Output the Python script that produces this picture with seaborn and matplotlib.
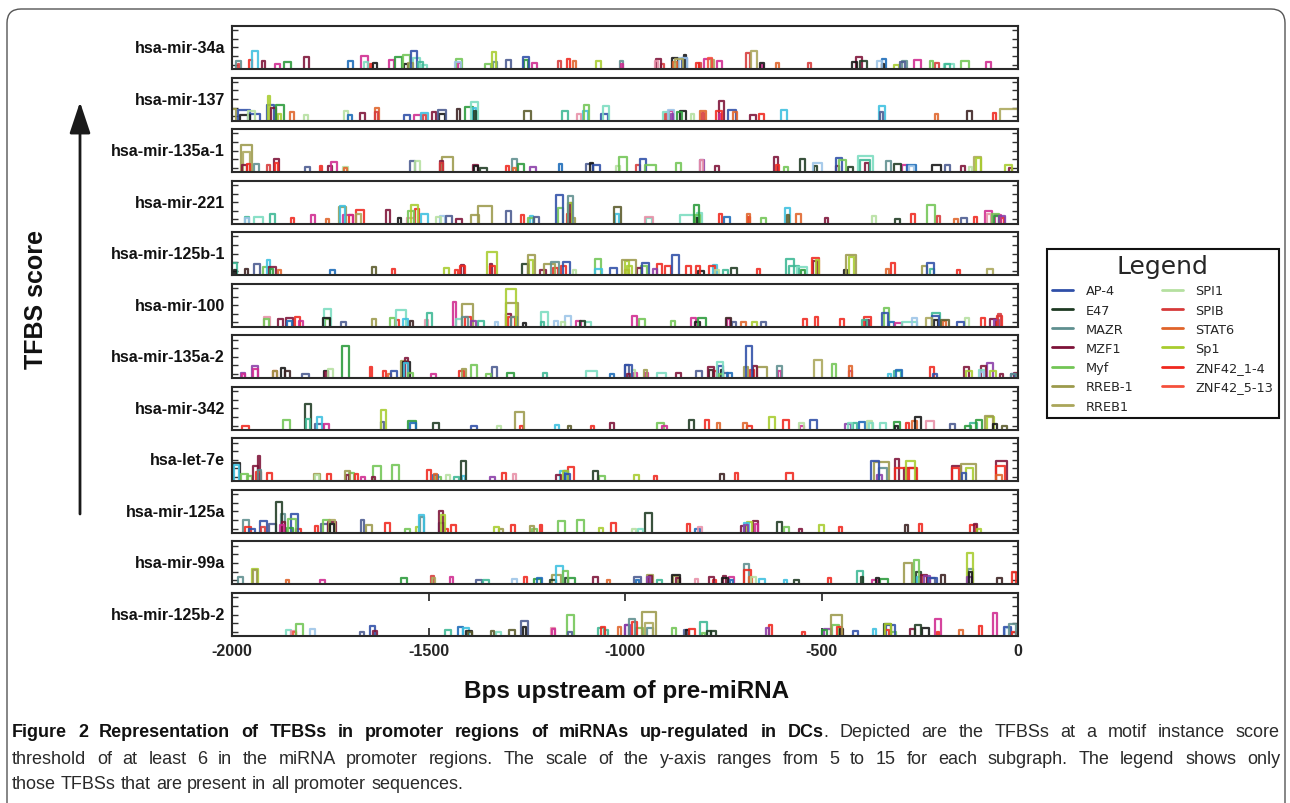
import matplotlib
matplotlib.use('Agg')
import matplotlib.pyplot as plt
from matplotlib import font_manager
from matplotlib.lines import Line2D
from matplotlib.patches import FancyBboxPatch
from matplotlib.transforms import IdentityTransform
import seaborn as sns
import pandas as pd

# miRNA promoters, top to bottom
mirnas = ['hsa-mir-34a', 'hsa-mir-137', 'hsa-mir-135a-1', 'hsa-mir-221',
          'hsa-mir-125b-1', 'hsa-mir-100', 'hsa-mir-135a-2', 'hsa-mir-342',
          'hsa-let-7e', 'hsa-mir-125a', 'hsa-mir-99a', 'hsa-mir-125b-2']

# factors shown in the legend (present in all promoters)
legend_tfs = ['AP-4', 'E47', 'MAZR', 'MZF1', 'Myf', 'RREB-1', 'RREB1',
              'SPI1', 'SPIB', 'STAT6', 'Sp1', 'ZNF42_1-4', 'ZNF42_5-13']

tf_colors = {
    'AP-4': '#2f4fa8', 'E47': '#1e3a22', 'MAZR': '#5f8f8f', 'MZF1': '#7d1238',
    'Myf': '#72c555', 'RREB-1': '#9c9a4c', 'RREB1': '#aaa65a', 'SPI1': '#b5e0a0',
    'SPIB': '#d63a3a', 'STAT6': '#e0642a', 'Sp1': '#a8cc2e', 'ZNF42_1-4': '#f0281e',
    'ZNF42_5-13': '#f5503c',
    # other factors, not in the legend
    'ZIC': '#d02a90', 'HIC1': '#3cc0e0', 'KROX': '#9cc4e8', 'PAX5': '#8a3ca8',
    'EGR1': '#2a9a3a', 'NRF1': '#3cb894', 'E2F': '#141414', 'ETF': '#5a5a2a',
    'WT1': '#e890a8', 'CTCF': '#7adcc0', 'ZF5': '#1a6ab8', 'KLF': '#4a5a90',
    'NF1': '#3a2020',
}

# sites: (start bp, motif length bp, score, factor)
sites_34a = [
    (-1989, 13, 6.9, 'MAZR'), (-1986, 5, 6.2, 'SPIB'), (-1957, 8, 7.1, 'ZNF42_1-4'),
    (-1949, 14, 9.1, 'HIC1'), (-1924, 7, 6.9, 'MZF1'), (-1891, 13, 6.2, 'ZIC'),
    (-1868, 17, 6.6, 'EGR1'), (-1817, 14, 7.7, 'MZF1'), (-1705, 12, 6.9, 'ZF5'),
    (-1672, 17, 8.1, 'ZIC'), (-1664, 10, 6.6, 'CTCF'), (-1650, 6, 6.2, 'ZNF42_1-4'),
    (-1641, 11, 6.3, 'E2F'), (-1601, 12, 7.1, 'ZIC'), (-1584, 17, 7.9, 'EGR1'),
    (-1565, 17, 8.3, 'Myf'), (-1562, 10, 6.2, 'E2F'), (-1552, 13, 6.3, 'RREB-1'),
    (-1545, 17, 9.1, 'AP-4'), (-1539, 17, 7.6, 'CTCF'), (-1527, 13, 6.6, 'NRF1'),
    (-1518, 15, 6.0, 'CTCF'), (-1433, 15, 6.6, 'KROX'), (-1429, 13, 7.3, 'Myf'),
    (-1425, 7, 6.3, 'ZIC'), (-1355, 14, 6.2, 'Myf'), (-1338, 11, 8.9, 'Sp1'),
    (-1335, 10, 6.6, 'MAZR'), (-1304, 14, 7.1, 'KLF'), (-1260, 15, 7.7, 'AP-4'),
    (-1257, 10, 7.1, 'EGR1'), (-1237, 13, 6.3, 'ZIC'), (-1170, 8, 6.8, 'SPIB'),
    (-1147, 8, 7.3, 'ZNF42_1-4'), (-1132, 8, 6.8, 'STAT6'), (-1073, 13, 6.9, 'Sp1'),
    (-1013, 8, 6.8, 'MAZR'), (-1011, 6, 6.2, 'ZIC'), (-924, 8, 6.9, 'WT1'),
    (-922, 13, 7.3, 'MZF1'), (-909, 8, 6.2, 'SPIB'), (-880, 15, 7.6, 'E2F'),
    (-877, 10, 6.6, 'STAT6'), (-872, 20, 7.3, 'RREB1'), (-862, 20, 7.6, 'KROX'),
    (-855, 12, 7.5, 'AP-4'), (-850, 5, 8.3, 'E2F'), (-820, 8, 6.3, 'ZNF42_1-4'),
    (-812, 6, 6.5, 'SPIB'), (-799, 20, 7.3, 'ZIC'), (-788, 10, 7.5, 'ZNF42_5-13'),
    (-782, 8, 7.0, 'RREB1'), (-765, 13, 6.8, 'ZIC'), (-691, 9, 8.6, 'SPIB'),
    (-680, 15, 9.1, 'RREB1'), (-657, 10, 6.3, 'E2F'), (-655, 6, 6.0, 'ZIC'),
    (-617, 8, 6.3, 'STAT6'), (-535, 9, 6.5, 'SPIB'), (-422, 12, 6.6, 'E2F'),
    (-411, 13, 7.7, 'MZF1'), (-401, 16, 6.8, 'E47'), (-358, 11, 6.9, 'KROX'),
    (-347, 10, 7.3, 'ZF5'), (-346, 6, 6.2, 'E2F'), (-316, 12, 6.0, 'Sp1'),
    (-301, 13, 6.6, 'KLF'), (-295, 13, 6.8, 'MAZR'), (-265, 17, 7.1, 'ZIC'),
    (-225, 9, 6.8, 'Myf'), (-210, 9, 6.3, 'SPIB'), (-189, 25, 6.2, 'CTCF'),
    (-185, 12, 6.2, 'NRF1'), (-144, 19, 6.8, 'Myf'), (-81, 13, 6.6, 'ZIC'),
]

sites_137 = [
    (-2000, 11, 7.7, 'RREB-1'), (-1986, 31, 7.5, 'AP-4'), (-1980, 25, 6.2, 'E2F'),
    (-1959, 30, 6.4, 'AP-4'), (-1959, 17, 7.3, 'SPI1'), (-1910, 18, 8.5, 'AP-4'),
    (-1908, 5, 10.8, 'Sp1'), (-1900, 13, 7.9, 'MZF1'), (-1887, 20, 8.7, 'EGR1'),
    (-1883, 8, 6.5, 'Sp1'), (-1853, 10, 6.9, 'STAT6'), (-1817, 10, 6.2, 'SPI1'),
    (-1715, 10, 7.2, 'SPI1'), (-1706, 12, 6.2, 'ZF5'), (-1675, 13, 6.7, 'MZF1'),
    (-1637, 10, 7.9, 'STAT6'), (-1635, 6, 7.0, 'SPIB'), (-1562, 14, 6.2, 'AP-4'),
    (-1537, 19, 6.2, 'ZIC'), (-1520, 18, 6.7, 'HIC1'), (-1515, 8, 6.3, 'SPIB'),
    (-1491, 11, 6.9, 'MZF1'), (-1476, 21, 7.5, 'KLF'), (-1474, 15, 6.6, 'E2F'),
    (-1427, 8, 7.6, 'NF1'), (-1406, 20, 8.1, 'EGR1'), (-1391, 17, 9.2, 'CTCF'),
    (-1387, 8, 8.0, 'HIC1'), (-1384, 6, 7.2, 'E47'), (-1257, 19, 7.2, 'ETF'),
    (-1160, 14, 7.2, 'NRF1'), (-1121, 8, 6.4, 'WT1'), (-1107, 14, 7.2, 'HIC1'),
    (-1104, 12, 8.6, 'Myf'), (-1062, 19, 6.5, 'AP-4'), (-1056, 15, 8.3, 'CTCF'),
    (-904, 15, 6.9, 'CTCF'), (-898, 6, 6.4, 'SPIB'), (-890, 14, 7.5, 'KROX'),
    (-887, 8, 7.2, 'ZIC'), (-884, 6, 6.6, 'PAX5'), (-867, 13, 6.9, 'EGR1'),
    (-859, 13, 7.3, 'E2F'), (-833, 8, 6.4, 'SPI1'), (-808, 13, 7.2, 'STAT6'),
    (-804, 6, 6.8, 'SPIB'), (-768, 15, 7.2, 'ZNF42_1-4'), (-761, 14, 9.5, 'MZF1'),
    (-762, 6, 6.4, 'ZIC'), (-737, 19, 7.5, 'AP-4'), (-724, 8, 6.9, 'STAT6'),
    (-682, 16, 6.2, 'MZF1'), (-659, 13, 6.4, 'ZNF42_1-4'), (-604, 17, 7.5, 'HIC1'),
    (-354, 15, 8.3, 'HIC1'), (-350, 6, 7.0, 'KLF'), (-212, 8, 6.4, 'STAT6'),
    (-129, 11, 7.2, 'NF1'), (-64, 7, 6.7, 'ZNF42_1-4'), (-47, 47, 7.7, 'RREB1'),
]

sites_135a1 = [
    (-1976, 27, 11.2, 'RREB-1'), (-1972, 17, 9.7, 'RREB1'), (-1974, 11, 6.6, 'MZF1'),
    (-1963, 9, 6.8, 'ZNF42_1-4'), (-1944, 12, 6.8, 'MAZR'), (-1912, 8, 6.6, 'SPIB'),
    (-1893, 12, 8.1, 'MZF1'), (-1890, 6, 7.0, 'ZNF42_1-4'), (-1813, 11, 6.2, 'KLF'),
    (-1777, 7, 6.3, 'ZNF42_1-4'), (-1756, 10, 6.3, 'MZF1'), (-1747, 15, 7.3, 'ZIC'),
    (-1717, 12, 6.2, 'SPI1'), (-1714, 7, 6.0, 'STAT6'), (-1548, 13, 7.6, 'KLF'),
    (-1535, 13, 7.6, 'SPI1'), (-1472, 8, 7.1, 'SPIB'), (-1470, 6, 7.6, 'MZF1'),
    (-1466, 28, 8.6, 'RREB-1'), (-1387, 14, 6.6, 'MZF1'), (-1385, 10, 6.3, 'E2F'),
    (-1370, 19, 6.0, 'E47'), (-1304, 8, 6.3, 'ZNF42_1-4'), (-1287, 13, 8.1, 'MAZR'),
    (-1284, 7, 6.0, 'STAT6'), (-1272, 15, 6.8, 'EGR1'), (-1243, 17, 6.2, 'PAX5'),
    (-1169, 8, 6.8, 'ZF5'), (-1098, 17, 6.8, 'KLF'), (-1090, 8, 7.1, 'E2F'),
    (-1081, 17, 6.6, 'AP-4'), (-1022, 10, 6.5, 'SPI1'), (-1016, 20, 8.6, 'Myf'),
    (-971, 8, 6.6, 'SPIB'), (-963, 17, 8.1, 'AP-4'), (-949, 27, 6.6, 'Myf'),
    (-871, 13, 7.1, 'Myf'), (-810, 11, 7.7, 'PAX5'), (-808, 6, 7.9, 'WT1'),
    (-771, 10, 6.3, 'MZF1'), (-621, 11, 8.5, 'MZF1'), (-617, 8, 6.6, 'ZNF42_1-4'),
    (-596, 11, 6.2, 'Myf'), (-555, 14, 8.1, 'E47'), (-522, 24, 7.1, 'KROX'),
    (-520, 8, 6.3, 'E47'), (-464, 17, 8.3, 'AP-4'), (-456, 19, 7.9, 'Myf'),
    (-462, 6, 6.3, 'MZF1'), (-432, 12, 6.2, 'E47'), (-407, 37, 8.8, 'CTCF'),
    (-402, 25, 7.8, 'NRF1'), (-390, 12, 7.1, 'MZF1'), (-337, 13, 7.6, 'MAZR'),
    (-316, 19, 6.9, 'E47'), (-295, 13, 6.6, 'ZIC'), (-282, 23, 6.6, 'ZF5'),
    (-278, 14, 6.4, 'KROX'), (-218, 21, 6.6, 'E2F'), (-186, 12, 6.6, 'KLF'),
    (-144, 8, 6.3, 'MZF1'), (-124, 8, 6.2, 'SPI1'), (-112, 17, 8.5, 'RREB1'),
    (-108, 15, 8.3, 'Sp1'), (-32, 17, 6.6, 'Sp1'), (-24, 8, 6.0, 'MZF1'),
]

sites_221 = [
    (-1968, 10, 6.6, 'NRF1'), (-1966, 8, 6.4, 'KROX'), (-1944, 23, 6.6, 'CTCF'),
    (-1904, 13, 7.2, 'NRF1'), (-1850, 8, 6.4, 'ZNF42_1-4'), (-1800, 10, 7.0, 'ZIC'),
    (-1760, 8, 6.0, 'STAT6'), (-1728, 17, 8.9, 'RREB-1'), (-1726, 13, 9.1, 'HIC1'),
    (-1718, 25, 7.0, 'ZIC'), (-1703, 11, 7.0, 'ZNF42_1-4'), (-1684, 20, 8.1, 'ZNF42_1-4'),
    (-1684, 12, 7.2, 'RREB1'), (-1607, 10, 8.1, 'MZF1'), (-1577, 8, 6.4, 'E2F'),
    (-1555, 17, 6.4, 'WT1'), (-1552, 15, 7.9, 'Myf'), (-1545, 18, 9.3, 'Sp1'),
    (-1535, 10, 8.5, 'ZNF42_1-4'), (-1520, 18, 7.2, 'HIC1'), (-1480, 13, 6.6, 'SPI1'),
    (-1472, 13, 6.7, 'KROX'), (-1455, 14, 6.7, 'KLF'), (-1429, 13, 6.0, 'MZF1'),
    (-1391, 20, 7.0, 'RREB-1'), (-1374, 35, 9.0, 'RREB-1'), (-1302, 13, 7.9, 'KLF'),
    (-1264, 8, 7.0, 'ZNF42_1-4'), (-1247, 15, 6.4, 'Myf'), (-1243, 10, 6.8, 'HIC1'),
    (-1232, 14, 6.6, 'KLF'), (-1175, 17, 11.7, 'AP-4'), (-1170, 13, 8.7, 'Myf'),
    (-1147, 6, 7.2, 'ZNF42_1-4'), (-1145, 13, 11.4, 'MAZR'), (-1145, 10, 9.9, 'Sp1'),
    (-1141, 6, 9.9, 'MZF1'), (-1137, 10, 6.4, 'RREB-1'), (-1028, 19, 8.9, 'ETF'),
    (-1025, 11, 7.3, 'HIC1'), (-948, 19, 6.6, 'WT1'), (-946, 14, 6.4, 'CTCF'),
    (-861, 36, 7.0, 'CTCF'), (-825, 14, 9.3, 'EGR1'), (-822, 12, 7.0, 'Myf'),
    (-817, 13, 7.4, 'CTCF'), (-819, 6, 6.2, 'E2F'), (-761, 9, 7.3, 'ZNF42_1-4'),
    (-748, 14, 6.6, 'ZF5'), (-689, 8, 7.3, 'STAT6'), (-687, 6, 6.6, 'ZNF42_1-4'),
    (-655, 13, 6.4, 'Myf'), (-592, 13, 8.7, 'HIC1'), (-589, 6, 7.0, 'ETF'),
    (-564, 11, 7.3, 'STAT6'), (-491, 8, 6.2, 'MZF1'), (-371, 10, 6.7, 'SPI1'),
    (-313, 12, 6.1, 'E47'), (-271, 8, 7.2, 'ZNF42_1-4'), (-231, 20, 9.3, 'Myf'),
    (-206, 8, 6.8, 'SPIB'), (-162, 10, 6.1, 'STAT6'), (-144, 14, 6.2, 'KLF'),
    (-112, 8, 6.6, 'ZNF42_1-4'), (-83, 17, 7.9, 'ZIC'), (-80, 12, 7.3, 'WT1'),
    (-66, 17, 7.3, 'Myf'), (-60, 12, 6.8, 'EGR1'), (-58, 16, 7.0, 'ZIC'),
    (-49, 15, 6.8, 'PAX5'), (-46, 12, 6.5, 'KROX'), (-42, 6, 6.2, 'ZNF42_1-4'),
]

sites_125b1 = [
    (-2000, 13, 7.9, 'NRF1'), (-1996, 5, 6.3, 'E2F'), (-1968, 8, 6.5, 'NF1'),
    (-1944, 14, 7.7, 'KLF'), (-1921, 17, 6.9, 'Myf'), (-1912, 8, 8.5, 'HIC1'),
    (-1907, 19, 6.9, 'MZF1'), (-1904, 8, 6.5, 'EGR1'), (-1884, 8, 6.3, 'STAT6'),
    (-1751, 13, 6.2, 'ZF5'), (-1643, 10, 6.9, 'ETF'), (-1593, 8, 6.5, 'ZNF42_1-4'),
    (-1460, 12, 6.7, 'Sp1'), (-1433, 8, 6.2, 'ZNF42_1-4'), (-1419, 11, 7.1, 'ZNF42_1-4'),
    (-1417, 8, 7.3, 'MZF1'), (-1350, 25, 10.5, 'Sp1'), (-1344, 13, 7.2, 'ZNF42_1-4'),
    (-1344, 6, 7.5, 'MZF1'), (-1261, 14, 7.5, 'E47'), (-1247, 17, 9.8, 'RREB-1'),
    (-1244, 11, 8.6, 'Sp1'), (-1217, 17, 6.3, 'MZF1'), (-1206, 27, 7.5, 'RREB-1'),
    (-1188, 21, 8.0, 'MAZR'), (-1183, 12, 6.7, 'ZNF42_1-4'), (-1162, 13, 7.1, 'ZNF42_1-4'),
    (-1158, 17, 8.0, 'AP-4'), (-1132, 8, 6.3, 'SPI1'), (-1077, 15, 8.8, 'Myf'),
    (-1077, 19, 6.5, 'HIC1'), (-1037, 17, 6.7, 'AP-4'), (-1001, 12, 8.2, 'Sp1'),
    (-1007, 34, 8.5, 'RREB-1'), (-994, 13, 7.2, 'Sp1'), (-999, 8, 6.3, 'STAT6'),
    (-969, 13, 6.7, 'MZF1'), (-960, 17, 7.1, 'Myf'), (-956, 17, 7.9, 'AP-4'),
    (-929, 11, 6.5, 'PAX5'), (-918, 11, 7.5, 'ZNF42_1-4'), (-897, 13, 7.1, 'ZNF42_1-4'),
    (-880, 17, 9.6, 'AP-4'), (-846, 13, 7.2, 'ZNF42_1-4'), (-819, 11, 7.2, 'ZNF42_1-4'),
    (-814, 14, 5.9, 'E2F'), (-785, 13, 7.2, 'ZNF42_1-4'), (-777, 10, 7.4, 'HIC1'),
    (-770, 8, 6.3, 'SPI1'), (-751, 13, 6.3, 'NRF1'), (-731, 17, 6.7, 'E47'),
    (-665, 8, 6.5, 'ZNF42_1-4'), (-590, 19, 8.8, 'NRF1'), (-583, 25, 7.2, 'NRF1'),
    (-562, 25, 6.9, 'CTCF'), (-553, 12, 6.3, 'EGR1'), (-525, 18, 9.0, 'ZNF42_1-4'),
    (-521, 10, 8.2, 'MZF1'), (-515, 8, 8.5, 'Sp1'), (-443, 8, 6.2, 'E2F'),
    (-437, 24, 9.8, 'RREB-1'), (-430, 12, 9.3, 'Sp1'), (-335, 8, 6.5, 'STAT6'),
    (-322, 10, 7.9, 'ZNF42_1-4'), (-244, 13, 7.2, 'RREB-1'), (-231, 17, 7.9, 'AP-4'),
    (-223, 8, 6.5, 'NRF1'), (-155, 8, 6.2, 'ZNF42_1-4'), (-78, 14, 6.5, 'RREB1'),
]

sites_100 = [
    (-1918, 14, 7.3, 'WT1'), (-1918, 12, 6.7, 'Myf'), (-1883, 13, 6.7, 'MZF1'),
    (-1862, 17, 7.1, 'MZF1'), (-1859, 12, 6.3, 'ZF5'), (-1840, 13, 7.3, 'ZNF42_1-4'),
    (-1830, 11, 6.3, 'ZIC'), (-1766, 17, 9.2, 'CTCF'), (-1768, 17, 7.1, 'E2F'),
    (-1763, 12, 6.9, 'Myf'), (-1723, 12, 6.1, 'KLF'), (-1643, 10, 6.7, 'RREB-1'),
    (-1599, 13, 7.0, 'Myf'), (-1582, 8, 6.6, 'ZNF42_1-4'), (-1582, 25, 9.0, 'CTCF'),
    (-1565, 14, 6.7, 'HIC1'), (-1548, 8, 6.3, 'NF1'), (-1510, 8, 6.6, 'WT1'),
    (-1503, 12, 8.1, 'NRF1'), (-1438, 8, 10.7, 'ZIC'), (-1429, 13, 6.9, 'CTCF'),
    (-1416, 29, 10.2, 'RREB-1'), (-1414, 15, 7.3, 'MAZR'), (-1408, 17, 7.3, 'ZNF42_1-4'),
    (-1391, 13, 6.3, 'PAX5'), (-1374, 15, 6.3, 'NRF1'), (-1332, 8, 6.1, 'KROX'),
    (-1302, 25, 13.8, 'Sp1'), (-1302, 30, 10.5, 'RREB-1'), (-1302, 12, 7.9, 'MZF1'),
    (-1298, 17, 7.3, 'ZNF42_1-4'), (-1290, 14, 7.3, 'MAZR'), (-1260, 8, 5.9, 'E2F'),
    (-1213, 17, 8.4, 'CTCF'), (-1213, 8, 6.1, 'NRF1'), (-1181, 10, 6.3, 'KROX'),
    (-1163, 10, 6.1, 'SPI1'), (-1152, 14, 7.6, 'KROX'), (-1124, 13, 6.3, 'ZIC'),
    (-1115, 13, 6.3, 'E47'), (-1101, 14, 6.2, 'CTCF'), (-982, 13, 7.5, 'ZIC'),
    (-965, 17, 6.7, 'Myf'), (-884, 11, 6.3, 'Myf'), (-831, 12, 7.1, 'ZIC'),
    (-822, 12, 6.0, 'E2F'), (-814, 19, 7.0, 'EGR1'), (-742, 11, 7.1, 'NF1'),
    (-740, 6, 6.8, 'ZIC'), (-727, 10, 6.1, 'KLF'), (-706, 14, 6.2, 'STAT6'),
    (-676, 13, 6.1, 'Sp1'), (-655, 13, 6.2, 'KLF'), (-547, 10, 6.9, 'ZNF42_1-4'),
    (-517, 8, 7.2, 'ZNF42_1-4'), (-453, 10, 6.7, 'ZNF42_1-4'), (-398, 14, 6.6, 'NRF1'),
    (-392, 17, 7.3, 'ZNF42_1-4'), (-388, 8, 6.5, 'MZF1'), (-347, 17, 8.3, 'AP-4'),
    (-341, 13, 9.3, 'Myf'), (-329, 13, 6.1, 'ZF5'), (-313, 19, 5.9, 'ZIC'),
    (-295, 38, 6.2, 'CTCF'), (-269, 13, 7.1, 'KROX'), (-234, 14, 7.1, 'RREB1'),
    (-218, 19, 8.3, 'NRF1'), (-218, 17, 7.6, 'AP-4'), (-214, 10, 6.5, 'E2F'),
    (-195, 19, 6.6, 'ETF'), (-192, 8, 6.3, 'STAT6'), (-155, 17, 6.1, 'AP-4'),
    (-135, 10, 7.1, 'SPI1'), (-93, 10, 7.1, 'ZNF42_1-4'), (-70, 13, 6.7, 'MZF1'),
    (-60, 12, 6.5, 'PAX5'), (-53, 13, 7.5, 'ZNF42_1-4'), (-50, 6, 7.9, 'SPIB'),
]

sites_135a2 = [
    (-1978, 12, 6.3, 'PAX5'), (-1975, 8, 6.0, 'ZIC'), (-1949, 15, 7.9, 'PAX5'),
    (-1946, 11, 7.1, 'ZIC'), (-1896, 11, 6.8, 'ZNF42_1-4'), (-1895, 9, 6.6, 'RREB-1'),
    (-1876, 12, 7.3, 'E2F'), (-1864, 11, 6.6, 'NF1'), (-1822, 17, 6.0, 'KLF'),
    (-1766, 10, 6.8, 'E2F'), (-1764, 6, 6.4, 'MZF1'), (-1756, 13, 7.1, 'SPI1'),
    (-1720, 17, 12.5, 'EGR1'), (-1650, 7, 7.7, 'ZNF42_1-4'), (-1617, 8, 6.6, 'ZNF42_1-4'),
    (-1604, 8, 6.0, 'STAT6'), (-1596, 17, 6.6, 'AP-4'), (-1571, 19, 9.1, 'RREB-1'),
    (-1565, 17, 8.9, 'E2F'), (-1563, 12, 8.5, 'HIC1'), (-1560, 8, 9.6, 'MZF1'),
    (-1552, 13, 6.3, 'Myf'), (-1494, 12, 6.0, 'ZIC'), (-1422, 13, 6.8, 'ZNF42_1-4'),
    (-1416, 12, 7.1, 'RREB-1'), (-1393, 17, 8.1, 'Myf'), (-1353, 13, 6.0, 'Myf'),
    (-1338, 13, 7.6, 'KLF'), (-1299, 17, 6.2, 'EGR1'), (-1209, 11, 6.2, 'NRF1'),
    (-1098, 28, 6.6, 'CTCF'), (-1039, 11, 5.9, 'ZF5'), (-1001, 12, 8.1, 'KLF'),
    (-1000, 19, 8.1, 'AP-4'), (-996, 8, 6.0, 'MZF1'), (-983, 8, 6.9, 'SPI1'),
    (-977, 8, 6.2, 'ZIC'), (-952, 8, 6.9, 'RREB-1'), (-950, 8, 6.2, 'ZIC'),
    (-918, 23, 6.2, 'CTCF'), (-871, 13, 6.3, 'MZF1'), (-819, 14, 6.6, 'KLF'),
    (-788, 14, 7.6, 'MZF1'), (-785, 8, 7.0, 'NF1'), (-774, 8, 6.6, 'ZNF42_1-4'),
    (-765, 14, 8.9, 'CTCF'), (-763, 12, 7.9, 'AP-4'), (-760, 10, 6.0, 'Myf'),
    (-756, 6, 6.9, 'E2F'), (-754, 17, 6.2, 'KLF'), (-740, 12, 6.2, 'ZF5'),
    (-697, 11, 7.7, 'RREB-1'), (-693, 17, 12.4, 'AP-4'), (-681, 8, 7.0, 'ZNF42_1-4'),
    (-675, 11, 7.9, 'MZF1'), (-664, 25, 7.6, 'RREB-1'), (-613, 13, 7.9, 'MAZR'),
    (-610, 8, 6.6, 'ZIC'), (-519, 19, 9.3, 'RREB1'), (-474, 12, 8.3, 'Myf'),
    (-430, 8, 7.9, 'STAT6'), (-429, 6, 6.6, 'ZIC'), (-330, 8, 6.0, 'HIC1'),
    (-316, 19, 6.6, 'NRF1'), (-310, 14, 6.9, 'ZF5'), (-223, 8, 7.6, 'ZNF42_1-4'),
    (-217, 11, 6.0, 'AP-4'), (-138, 14, 7.7, 'MZF1'), (-132, 14, 6.6, 'Sp1'),
    (-100, 13, 6.9, 'CTCF'), (-97, 10, 6.5, 'KROX'), (-93, 12, 7.9, 'MZF1'),
    (-78, 14, 8.5, 'PAX5'), (-70, 14, 6.6, 'Sp1'), (-46, 8, 6.0, 'MZF1'),
    (-19, 13, 6.0, 'MAZR'), (-17, 10, 6.0, 'AP-4'), (-11, 11, 6.2, 'MZF1'),
]

sites_342 = [
    (-1974, 17, 6.0, 'ZNF42_1-4'), (-1870, 17, 7.2, 'Myf'), (-1813, 14, 11.0, 'E47'),
    (-1811, 9, 7.6, 'NRF1'), (-1788, 19, 6.4, 'KLF'), (-1783, 12, 7.9, 'HIC1'),
    (-1766, 14, 6.4, 'ZIC'), (-1622, 13, 9.7, 'Sp1'), (-1620, 8, 6.8, 'KLF'),
    (-1552, 19, 7.0, 'EGR1'), (-1548, 17, 6.5, 'ZF5'), (-1488, 14, 6.6, 'E47'),
    (-1393, 17, 6.0, 'AP-4'), (-1325, 10, 6.0, 'SPI1'), (-1279, 22, 9.2, 'RREB-1'),
    (-1268, 8, 6.0, 'ZNF42_1-4'), (-1177, 8, 6.2, 'HIC1'), (-1145, 8, 6.0, 'ETF'),
    (-1087, 8, 6.0, 'ZNF42_1-4'), (-1039, 11, 6.6, 'MZF1'), (-918, 17, 6.6, 'Myf'),
    (-907, 14, 6.0, 'ZIC'), (-837, 13, 7.2, 'E47'), (-797, 12, 7.3, 'ZNF42_1-4'),
    (-765, 8, 6.6, 'STAT6'), (-700, 11, 6.7, 'STAT6'), (-689, 12, 6.0, 'ZNF42_1-4'),
    (-634, 15, 7.9, 'Sp1'), (-598, 15, 7.3, 'ZNF42_1-4'), (-558, 13, 6.6, 'SPI1'),
    (-554, 10, 6.0, 'ZIC'), (-528, 17, 7.3, 'AP-4'), (-439, 15, 6.4, 'PAX5'),
    (-432, 10, 6.6, 'CTCF'), (-420, 11, 6.6, 'NRF1'), (-405, 15, 6.8, 'ZF5'),
    (-384, 13, 7.0, 'SPI1'), (-380, 10, 6.6, 'CTCF'), (-350, 13, 6.6, 'CTCF'),
    (-316, 17, 6.8, 'EGR1'), (-313, 8, 6.0, 'E2F'), (-286, 8, 6.6, 'ZNF42_1-4'),
    (-269, 13, 7.0, 'STAT6'), (-261, 13, 7.9, 'E2F'), (-235, 21, 7.0, 'WT1'),
    (-172, 11, 6.4, 'KLF'), (-134, 15, 5.8, 'EGR1'), (-121, 17, 6.6, 'NRF1'),
    (-108, 17, 7.2, 'EGR1'), (-83, 19, 8.3, 'RREB-1'), (-79, 17, 7.9, 'Sp1'),
    (-64, 11, 6.4, 'E2F'), (-40, 13, 6.0, 'ETF'),
]

sites_let7e = [
    (-1997, 17, 9.3, 'E2F'), (-1995, 14, 8.8, 'HIC1'), (-1978, 19, 6.7, 'Myf'),
    (-1961, 12, 6.2, 'Myf'), (-1946, 13, 8.5, 'MZF1'), (-1935, 6, 10.8, 'MZF1'),
    (-1938, 13, 7.2, 'ZNF42_1-4'), (-1933, 8, 7.7, 'MAZR'), (-1912, 13, 6.9, 'ZNF42_1-4'),
    (-1791, 14, 6.7, 'RREB-1'), (-1788, 10, 6.5, 'SPI1'), (-1759, 10, 6.7, 'ZNF42_1-4'),
    (-1713, 13, 7.3, 'RREB-1'), (-1710, 8, 6.4, 'MZF1'), (-1703, 13, 6.9, 'Myf'),
    (-1688, 8, 6.7, 'ZNF42_1-4'), (-1671, 10, 6.1, 'ZIC'), (-1644, 8, 6.1, 'MZF1'),
    (-1641, 19, 8.5, 'Myf'), (-1593, 19, 8.9, 'Myf'), (-1505, 11, 7.7, 'ZNF42_1-4'),
    (-1488, 13, 6.4, 'ZF5'), (-1486, 8, 6.6, 'STAT6'), (-1480, 11, 6.1, 'Myf'),
    (-1455, 10, 6.4, 'SPI1'), (-1436, 13, 6.1, 'NRF1'), (-1418, 14, 9.8, 'E47'),
    (-1416, 10, 6.2, 'HIC1'), (-1344, 13, 6.1, 'PAX5'), (-1312, 8, 6.9, 'ZNF42_1-4'),
    (-1285, 8, 6.7, 'WT1'), (-1175, 13, 6.4, 'MZF1'), (-1166, 17, 7.5, 'HIC1'),
    (-1158, 13, 7.5, 'Sp1'), (-1152, 11, 6.7, 'AP-4'), (-1154, 8, 7.3, 'ZF5'),
    (-1145, 15, 8.3, 'ZNF42_1-4'), (-1081, 13, 7.5, 'E47'), (-1065, 13, 6.2, 'Myf'),
    (-977, 13, 6.4, 'Sp1'), (-926, 8, 6.2, 'ZNF42_1-4'), (-757, 8, 6.7, 'NF1'),
    (-720, 8, 6.9, 'ZNF42_1-4'), (-590, 17, 6.9, 'ZNF42_1-4'), (-375, 21, 9.7, 'AP-4'),
    (-367, 38, 9.6, 'RREB-1'), (-354, 21, 8.0, 'MAZR'), (-358, 11, 6.4, 'PAX5'),
    (-313, 10, 10.3, 'MZF1'), (-312, 30, 8.0, 'ZNF42_1-4'), (-286, 25, 9.8, 'Sp1'),
    (-290, 30, 8.2, 'MZF1'), (-278, 21, 8.1, 'ZNF42_1-4'), (-169, 23, 8.5, 'MZF1'),
    (-167, 17, 8.1, 'ZNF42_1-4'), (-146, 38, 9.0, 'RREB-1'), (-143, 10, 6.9, 'AP-4'),
    (-132, 17, 8.1, 'Sp1'), (-57, 30, 9.7, 'MZF1'), (-57, 25, 8.5, 'ZNF42_1-4'),
    (-57, 17, 6.5, 'STAT6'),
]

sites_125a = [
    (-1972, 14, 7.9, 'MAZR'), (-1968, 17, 6.3, 'ZNF42_1-4'), (-1957, 15, 6.0, 'AP-4'),
    (-1929, 17, 7.7, 'AP-4'), (-1925, 8, 6.3, 'SPIB'), (-1907, 19, 7.1, 'KLF'),
    (-1887, 14, 12.2, 'E47'), (-1876, 12, 9.3, 'MAZR'), (-1873, 8, 7.6, 'MZF1'),
    (-1879, 11, 6.8, 'ZIC'), (-1859, 14, 6.2, 'EGR1'), (-1857, 19, 8.3, 'Myf'),
    (-1849, 17, 9.4, 'AP-4'), (-1836, 11, 6.0, 'ZNF42_1-4'), (-1788, 8, 6.5, 'ZNF42_1-4'),
    (-1773, 17, 7.1, 'KLF'), (-1768, 17, 7.9, 'Myf'), (-1756, 21, 7.6, 'MZF1'),
    (-1752, 14, 7.9, 'RREB1'), (-1750, 10, 7.0, 'E2F'), (-1673, 10, 7.9, 'KLF'),
    (-1658, 13, 6.8, 'RREB-1'), (-1610, 13, 7.3, 'ZNF42_1-4'), (-1561, 13, 6.0, 'Myf'),
    (-1531, 8, 6.3, 'Sp1'), (-1525, 14, 9.1, 'HIC1'), (-1522, 10, 8.6, 'MAZR'),
    (-1474, 11, 10.2, 'MZF1'), (-1467, 10, 9.1, 'Sp1'), (-1474, 14, 7.3, 'AP-4'),
    (-1459, 8, 5.8, 'ZNF42_1-4'), (-1443, 12, 6.9, 'ZNF42_1-4'), (-1333, 12, 6.3, 'Sp1'),
    (-1321, 11, 6.0, 'RREB-1'), (-1289, 8, 6.8, 'ZNF42_1-4'), (-1243, 11, 6.6, 'RREB-1'),
    (-1237, 14, 6.0, 'Myf'), (-1217, 7, 6.8, 'ZNF42_1-4'), (-1170, 17, 7.7, 'Myf'),
    (-1121, 17, 8.1, 'Myf'), (-1067, 11, 6.2, 'Sp1'), (-1036, 12, 7.3, 'ZNF42_1-4'),
    (-983, 10, 6.0, 'SPI1'), (-966, 12, 6.0, 'CTCF'), (-949, 17, 9.7, 'E47'),
    (-842, 8, 7.1, 'ZNF42_1-4'), (-822, 14, 6.0, 'ZF5'), (-813, 8, 6.3, 'WT1'),
    (-706, 11, 6.6, 'MZF1'), (-698, 13, 7.3, 'HIC1'), (-696, 8, 6.8, 'PAX5'),
    (-689, 13, 7.6, 'Sp1'), (-675, 14, 7.7, 'MZF1'), (-668, 7, 7.0, 'ZIC'),
    (-613, 13, 7.6, 'E47'), (-596, 13, 6.3, 'Myf'), (-558, 8, 6.0, 'MZF1'),
    (-507, 13, 6.8, 'Sp1'), (-456, 8, 6.3, 'ZNF42_1-4'), (-288, 8, 6.9, 'NF1'),
    (-252, 8, 7.1, 'ZNF42_1-4'), (-121, 14, 6.8, 'ZNF42_1-4'), (-113, 8, 7.1, 'MZF1'),
    (-104, 11, 6.0, 'Sp1'),
]

sites_99a = [
    (-1986, 14, 6.8, 'MAZR'), (-1949, 14, 8.6, 'Sp1'), (-1947, 10, 8.3, 'RREB-1'),
    (-1862, 8, 6.0, 'STAT6'), (-1777, 13, 6.0, 'ZIC'), (-1571, 17, 6.4, 'EGR1'),
    (-1494, 8, 7.0, 'SPIB'), (-1491, 8, 6.6, 'RREB1'), (-1446, 8, 6.8, 'ZIC'),
    (-1378, 14, 6.0, 'KLF'), (-1361, 14, 6.0, 'NRF1'), (-1288, 14, 6.2, 'KROX'),
    (-1257, 8, 6.8, 'ZNF42_1-4'), (-1232, 17, 6.2, 'EGR1'), (-1223, 12, 6.6, 'ZF5'),
    (-1192, 17, 6.0, 'E47'), (-1186, 24, 7.2, 'RREB-1'), (-1175, 17, 9.3, 'HIC1'),
    (-1158, 13, 8.1, 'Myf'), (-1153, 9, 6.6, 'E47'), (-1145, 19, 6.6, 'EGR1'),
    (-1081, 13, 6.8, 'MZF1'), (-1045, 8, 6.0, 'STAT6'), (-977, 17, 6.8, 'KLF'),
    (-973, 8, 6.0, 'ZF5'), (-943, 13, 7.2, 'RREB-1'), (-945, 8, 6.8, 'PAX5'),
    (-940, 8, 7.0, 'MZF1'), (-918, 13, 6.0, 'NRF1'), (-880, 19, 7.3, 'E2F'),
    (-877, 12, 7.0, 'RREB-1'), (-870, 11, 6.4, 'MZF1'), (-822, 8, 6.2, 'WT1'),
    (-785, 11, 6.8, 'MZF1'), (-777, 8, 6.0, 'ZNF42_1-4'), (-754, 17, 6.4, 'E2F'),
    (-750, 8, 6.9, 'MZF1'), (-736, 13, 6.8, 'ZIC'), (-734, 9, 6.0, 'ZF5'),
    (-697, 13, 9.7, 'MAZR'), (-697, 17, 8.3, 'ZNF42_1-4'), (-684, 8, 6.8, 'STAT6'),
    (-680, 13, 6.8, 'SPI1'), (-659, 15, 6.2, 'HIC1'), (-596, 8, 6.0, 'HIC1'),
    (-570, 13, 6.0, 'E47'), (-483, 8, 6.4, 'ZNF42_1-4'), (-409, 14, 8.1, 'NRF1'),
    (-400, 6, 6.8, 'E47'), (-371, 13, 6.0, 'ZIC'), (-362, 9, 6.4, 'E2F'),
    (-350, 19, 6.2, 'EGR1'), (-290, 21, 10.1, 'RREB-1'), (-265, 14, 10.8, 'Myf'),
    (-259, 11, 7.8, 'E47'), (-256, 9, 6.8, 'HIC1'), (-248, 17, 7.2, 'MZF1'),
    (-244, 12, 6.9, 'ZNF42_1-4'), (-240, 17, 7.0, 'PAX5'), (-229, 23, 6.6, 'AP-4'),
    (-225, 15, 6.4, 'KLF'), (-195, 8, 7.2, 'NF1'), (-129, 14, 12.4, 'Sp1'),
    (-127, 12, 8.6, 'MAZR'), (-125, 8, 7.8, 'E2F'), (-129, 11, 6.8, 'PAX5'),
    (-53, 13, 6.6, 'NF1'), (-16, 10, 7.8, 'ZNF42_1-4'),
]

sites_125b2 = [
    (-1862, 13, 6.3, 'CTCF'), (-1849, 13, 6.1, 'WT1'), (-1845, 8, 6.0, 'ZNF42_5-13'),
    (-1836, 17, 7.9, 'Myf'), (-1802, 13, 6.7, 'KROX'), (-1675, 11, 5.9, 'KLF'),
    (-1650, 15, 7.3, 'AP-4'), (-1640, 8, 6.2, 'MZF1'), (-1459, 17, 6.3, 'NRF1'),
    (-1425, 13, 7.1, 'ZF5'), (-1412, 14, 6.9, 'HIC1'), (-1404, 14, 6.1, 'E2F'),
    (-1400, 10, 5.9, 'ETF'), (-1342, 8, 6.1, 'ETF'), (-1327, 11, 5.9, 'CTCF'),
    (-1296, 17, 6.3, 'ETF'), (-1264, 17, 8.6, 'KLF'), (-1260, 8, 7.1, 'E2F'),
    (-1189, 12, 6.9, 'WT1'), (-1186, 8, 6.6, 'ZIC'), (-1147, 17, 10.0, 'Myf'),
    (-1145, 10, 5.9, 'KLF'), (-1069, 15, 6.9, 'NRF1'), (-1060, 8, 7.1, 'ZNF42_1-4'),
    (-1050, 8, 6.3, 'NRF1'), (-1019, 10, 7.1, 'STAT6'), (-1001, 10, 7.5, 'PAX5'),
    (-1000, 12, 7.5, 'PAX5'), (-990, 15, 9.0, 'MAZR'), (-983, 14, 8.3, 'ZNF42_1-4'),
    (-973, 19, 6.9, 'Myf'), (-956, 34, 10.5, 'RREB-1'), (-950, 20, 8.1, 'RREB1'),
    (-943, 14, 6.9, 'MAZR'), (-881, 12, 6.9, 'Myf'), (-850, 11, 6.3, 'KLF'),
    (-844, 8, 6.5, 'E2F'), (-836, 15, 6.7, 'ZNF42_1-4'), (-808, 17, 8.3, 'NRF1'),
    (-804, 8, 5.8, 'Myf'), (-791, 11, 6.1, 'E47'), (-780, 12, 6.1, 'E47'),
    (-641, 8, 6.9, 'PAX5'), (-634, 7, 7.5, 'ZNF42_1-4'), (-549, 8, 5.9, 'ZNF42_1-4'),
    (-498, 13, 6.5, 'EGR1'), (-494, 17, 6.7, 'PAX5'), (-477, 30, 9.8, 'RREB-1'),
    (-474, 19, 7.5, 'Myf'), (-460, 13, 7.1, 'ZNF42_1-4'), (-454, 8, 6.6, 'E2F'),
    (-420, 14, 6.1, 'AP-4'), (-369, 8, 6.6, 'HIC1'), (-341, 17, 7.9, 'E47'),
    (-338, 14, 7.8, 'Sp1'), (-335, 22, 7.6, 'AP-4'), (-338, 11, 6.5, 'ZNF42_1-4'),
    (-324, 14, 5.9, 'Myf'), (-274, 13, 6.7, 'MZF1'), (-262, 14, 7.5, 'E47'),
    (-244, 17, 6.9, 'E2F'), (-210, 15, 8.9, 'ZIC'), (-206, 6, 6.0, 'ZNF42_1-4'),
    (-149, 8, 6.3, 'STAT6'), (-100, 8, 7.3, 'ZNF42_1-4'), (-64, 10, 10.4, 'ZIC'),
    (-36, 17, 7.1, 'AP-4'), (-33, 14, 6.9, 'KROX'), (-23, 17, 7.9, 'MAZR'),
    (-16, 10, 6.0, 'ZNF42_1-4'),
]

all_sites = [sites_34a, sites_137, sites_135a1, sites_221, sites_125b1, sites_100,
             sites_135a2, sites_342, sites_let7e, sites_125a, sites_99a, sites_125b2]

x_ticks = [-2000, -1500, -1000, -500, 0]
y_ticks = [6, 8, 10, 12, 14]

caption_lines = [
    [('Figure 2 Representation of TFBSs in promoter regions of miRNAs up-regulated in DCs', True),
     ('. Depicted are the TFBSs at a motif instance score', False)],
    [('threshold of at least 6 in the miRNA promoter regions. The scale of the y-axis ranges '
      'from 5 to 15 for each subgraph. The legend shows only', False)],
    [('those TFBSs that are present in all promoter sequences.', False)],
]

# each site becomes an outline: up at the start, across at its score, down at the end
rows = []
for name, sites in zip(mirnas, all_sites):
    for k, (start, length, score, tf) in enumerate(sites):
        end = min(start + length, 0)
        for x, y in [(start, 5), (start, score), (end, score), (end, 5)]:
            rows.append({'mirna': name, 'site': k, 'tf': tf, 'bp': x, 'score': y})
df = pd.DataFrame(rows)

sns.set_style('ticks')
plt.rcParams['font.family'] = ['Liberation Sans', 'DejaVu Sans']
caption_font = 'Liberation Sans'

W, H = 1290, 804
fig, axes = plt.subplots(len(mirnas), 1, figsize=(W / 100, H / 100), dpi=100, sharex=True)
fig.subplots_adjust(left=232 / W, right=1018 / W, top=1 - 27 / H, bottom=1 - 637 / H, hspace=0.2)

for i, (ax, name) in enumerate(zip(axes, mirnas)):
    sub = df[df['mirna'] == name]
    sns.lineplot(data=sub, x='bp', y='score', hue='tf', units='site', estimator=None,
                 sort=False, palette=tf_colors, legend=False, lw=1.6, alpha=0.88, ax=ax)
    ax.set_xlim(-2000, 0)
    ax.set_ylim(5, 15)
    ax.set_yticks(y_ticks)
    ax.tick_params(axis='y', direction='in', left=True, right=True, labelleft=False,
                   length=4, width=1, color='#333333')
    ax.set_xlabel('')
    ax.set_ylabel('')
    for sp in ax.spines.values():
        sp.set_visible(True)
        sp.set_linewidth(1.5)
        sp.set_color('#2a2a2a')
    ax.text(-0.009, 0.5, name, transform=ax.transAxes, ha='right', va='center',
            fontsize=11.5, fontweight='bold', color='#111111')
    if i < len(mirnas) - 1:
        ax.tick_params(axis='x', bottom=False, top=False, labelbottom=False)
    else:
        ax.set_xticks(x_ticks)
        ax.set_xticklabels([str(t) for t in x_ticks], fontsize=11.5, fontweight='bold')
        ax.tick_params(axis='x', direction='in', bottom=True, top=True, length=6, width=1.2,
                       pad=5, color='#222222')

fig.text(36 / W, 1 - 300 / H, 'TFBS score', rotation=90, ha='center', va='center',
         fontsize=18, fontweight='bold', color='#111111')
axes[0].annotate('', xy=(80 / W, 1 - 103 / H), xytext=(80 / W, 1 - 515 / H),
                 xycoords='figure fraction', textcoords='figure fraction', annotation_clip=False,
                 arrowprops=dict(arrowstyle='-|>,head_width=0.4,head_length=1.2', lw=2,
                                 color='#1a1a1a', mutation_scale=16, shrinkA=0, shrinkB=0))
fig.text(627 / W, 1 - 692 / H, 'Bps upstream of pre-miRNA', ha='center', va='center',
         fontsize=17.5, fontweight='bold', color='#111111')

handles = [Line2D([0], [0], color=tf_colors[t], lw=2) for t in legend_tfs]
leg = fig.legend(handles, legend_tfs, loc='upper left', bbox_to_anchor=(1047 / W, 1 - 250 / H),
                 borderaxespad=0, ncol=2, title='Legend', title_fontsize=18,
                 prop={'family': 'DejaVu Sans', 'size': 9.3},
                 frameon=True, fancybox=False, edgecolor='#111111', framealpha=1,
                 borderpad=0.4, handlelength=1.6, handletextpad=1.0, columnspacing=2.2,
                 labelspacing=0.48)
leg.get_title().set_family('DejaVu Sans')
leg.get_frame().set_linewidth(1.5)

# rounded frame around the whole figure
frame = FancyBboxPatch((7, -30), 1278, H - 10 + 30, boxstyle='round,pad=0,rounding_size=14',
                       transform=IdentityTransform(), fill=False, lw=1, edgecolor='#555555')
fig.add_artist(frame)

# caption, justified word by word; size chosen so the longest plain line fits naturally
renderer = fig.canvas.get_renderer()
x_left, x_right = 12, 1280
baselines = [737, 764, 789]
probe = fig.text(0, 0, caption_lines[1][0][0], fontsize=12, family=caption_font)
natural = probe.get_window_extent(renderer).width
probe.remove()
cap_size = min(13.0, 12 * (x_right - x_left) / natural * 0.99)

for li, (segments, base) in enumerate(zip(caption_lines, baselines)):
    tokens = []
    for si, (txt, bold) in enumerate(segments):
        for pi, piece in enumerate(txt.split(' ')):
            glued = (pi == 0 and si > 0)
            tokens.append((piece, bold, glued))
    arts = []
    for piece, bold, glued in tokens:
        t = fig.text(0, 0, piece, fontsize=cap_size, family=caption_font,
                     fontweight='bold' if bold else 'normal', color='#111111' if bold else '#2a2a2a',
                     va='baseline', ha='left', transform=IdentityTransform())
        arts.append(t)
    widths = [a.get_window_extent(renderer).width for a in arts]
    words = []
    for (piece, bold, glued), w, a in zip(tokens, widths, arts):
        if glued and words:
            words[-1].append((a, w))
        else:
            words.append([(a, w)])
    word_w = [sum(w for _, w in wd) for wd in words]
    sp_ref = fig.text(0, 0, 'a a', fontsize=cap_size, family=caption_font)
    sp_ref2 = fig.text(0, 0, 'aa', fontsize=cap_size, family=caption_font)
    space = sp_ref.get_window_extent(renderer).width - sp_ref2.get_window_extent(renderer).width
    sp_ref.remove()
    sp_ref2.remove()
    if li < len(caption_lines) - 1:
        gap = max((x_right - x_left - sum(word_w)) / max(len(words) - 1, 1), space * 0.6)
    else:
        gap = space
    x = x_left
    for wd, ww in zip(words, word_w):
        xx = x
        for a, w in wd:
            a.set_position((xx, H - base))
            xx += w
        x += ww + gap

fig.savefig('out.png', dpi=100)
